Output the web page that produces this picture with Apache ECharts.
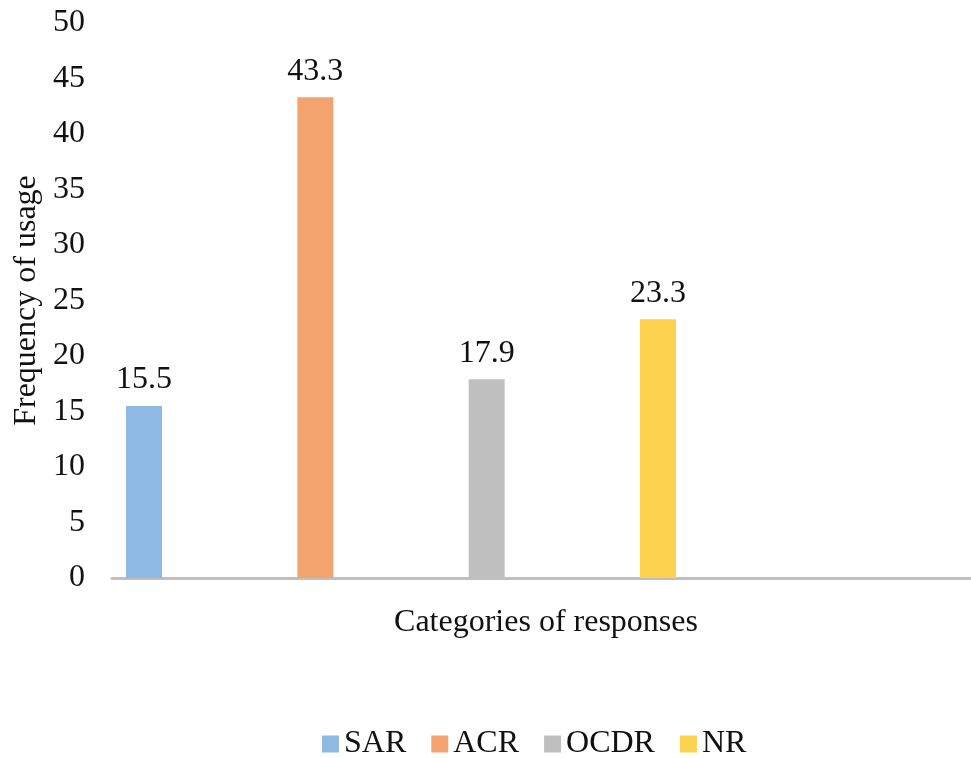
<!DOCTYPE html>
<html>
<head>
<meta charset="utf-8">
<title>Frequency of usage by category of response</title>
<script src="https://cdn.jsdelivr.net/npm/echarts@6/dist/echarts.min.js"></script>
<style>
  html, body { margin: 0; padding: 0; background: #ffffff; }
  #chart { width: 971px; height: 758px; }
</style>
</head>
<body>
<div id="chart"></div>
<script>
// Response categories and their frequency of usage
const categories = ['SAR', 'ACR', 'OCDR', 'NR'];
const values = [15.5, 43.3, 17.9, 23.3];
const colors = ['#8DB9E2', '#F3A46E', '#BFBFBF', '#FDD24E'];

// Value-axis tick range
const yMin = 0;
const yMax = 50;
const yStep = 5;

const FONT = '"Liberation Serif", "Times New Roman", serif';
const TEXT = '#111111';
const SIZE = 32;

// One bar series per category, each placed at its own slot on the x scale
const series = categories.map((name, i) => ({
  name: name,
  type: 'bar',
  data: [[i, values[i]]],
  barWidth: 36,
  barGap: '-100%',
  itemStyle: { color: colors[i] },
  label: {
    show: true,
    position: 'top',
    distance: 10,
    fontFamily: FONT,
    fontSize: SIZE,
    color: TEXT,
    formatter: (p) => p.value[1].toFixed(1)
  }
}));

const chart = echarts.init(document.getElementById('chart'), null, { renderer: 'canvas' });
chart.setOption({
  animation: false,
  backgroundColor: '#ffffff',
  textStyle: { fontFamily: FONT },
  color: colors,
  grid: { left: 112, right: 0, top: 23, bottom: 180, containLabel: false },
  legend: {
    data: categories,
    left: 322,
    top: 728,
    padding: 0,
    itemWidth: 17,
    itemHeight: 17,
    itemGap: 25,
    icon: 'rect',
    textStyle: { fontFamily: FONT, fontSize: SIZE, color: TEXT }
  },
  xAxis: {
    type: 'value',
    min: -0.187,
    max: 4.827,
    name: 'Categories of responses',
    nameLocation: 'middle',
    nameGap: 29,
    nameTextStyle: { fontFamily: FONT, fontSize: SIZE, color: TEXT, padding: [0, 0, 0, 9] },
    axisLine: { show: true, onZero: false, lineStyle: { color: '#BFBFBF', width: 3 } },
    axisTick: { show: false },
    axisLabel: { show: false },
    splitLine: { show: false }
  },
  yAxis: {
    type: 'value',
    min: yMin,
    max: yMax,
    interval: yStep,
    name: 'Frequency of usage',
    nameLocation: 'middle',
    nameRotate: 90,
    nameGap: 68,
    nameTextStyle: { fontFamily: FONT, fontSize: SIZE, color: TEXT },
    axisLine: { show: false },
    axisTick: { show: false },
    splitLine: { show: false },
    axisLabel: { fontFamily: FONT, fontSize: SIZE, color: TEXT, margin: 27 }
  },
  series: series
});
</script>
</body>
</html>
